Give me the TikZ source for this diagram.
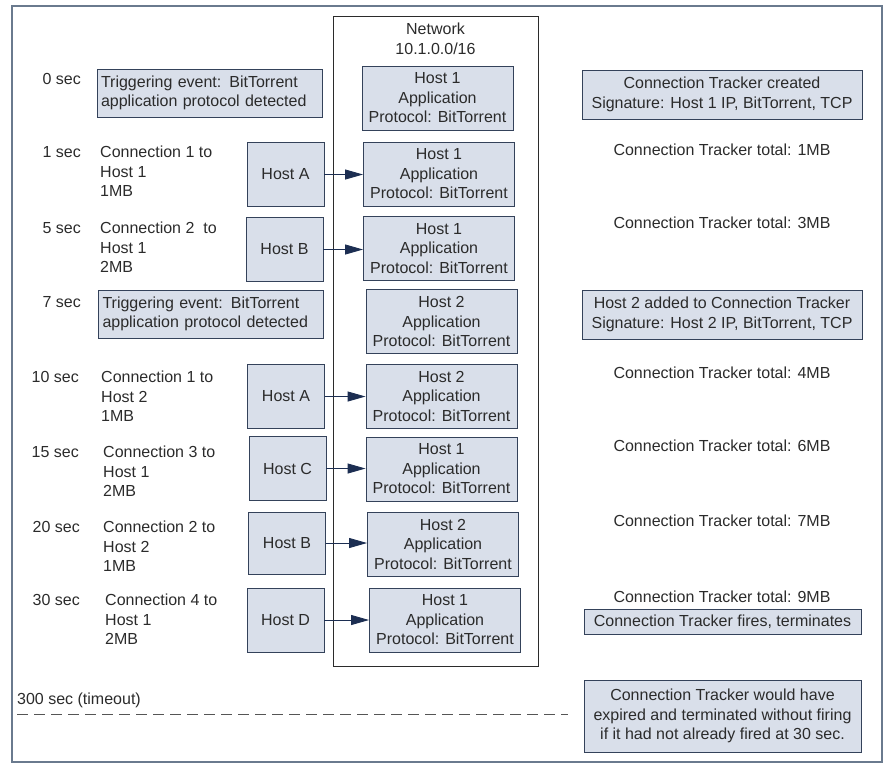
\documentclass[tikz,border=0pt]{standalone}
\usepackage{fontspec}
\setmainfont{Liberation Sans}
\usetikzlibrary{arrows.meta}

\definecolor{boxfill}{HTML}{D9DFEA}
\definecolor{boxline}{HTML}{34425A}
\definecolor{arrowcol}{HTML}{1C2E52}
\definecolor{txt}{HTML}{2B2B2B}
\definecolor{framecol}{HTML}{6A7A8E}

\tikzstyle{box} = [draw=boxline, fill=boxfill, line width=0.9pt, text=txt, inner sep=2pt, align=center]
\tikzstyle{netbox} = [box, minimum width=151pt, minimum height=64pt]
\tikzstyle{hostbox} = [box, minimum width=77pt, minimum height=64pt]
\tikzstyle{trigbox} = [box, minimum width=225pt, minimum height=48pt, text width=217pt, align=left]
\tikzstyle{trackbox} = [box, minimum width=280pt, minimum height=49pt]
\tikzstyle{plain} = [text=txt, inner sep=0pt, align=left]
\tikzstyle{tick} = [text=txt, inner sep=0pt, anchor=east]
\tikzstyle{link} = [draw=arrowcol, line width=0.9pt, -{Triangle[length=18pt,width=10pt]}]

\begin{document}
\begin{tikzpicture}[x=1pt, y=-1pt, font=\fontsize{16}{19.5}\selectfont]
      \useasboundingbox (0,0) rectangle (891,763);
      \draw[framecol, line width=1.6pt] (12,6) rectangle (882,762);
      \draw[txt, line width=0.8pt] (333,16) rectangle (538,666);
      \node[plain, align=center] (net) at (435.5,39) {Network\\10.1.0.0/16};

      % times
      \node[tick] (t0) at (81,79) {0 sec};
      \node[tick] (t1) at (81,152) {1 sec};
      \node[tick] (t5) at (81,228) {5 sec};
      \node[tick] (t7) at (81,302) {7 sec};
      \node[tick] (t10) at (79,377) {10 sec};
      \node[tick] (t15) at (79,452) {15 sec};
      \node[tick] (t20) at (80,527) {20 sec};
      \node[tick] (t30) at (80,600) {30 sec};

      % events
      \node[trigbox] (e0) at (209.5,93) {Triggering event: BitTorrent\\application protocol detected};
      \node[plain, anchor=north west] (c1) at (100,146) {Connection 1 to\\Host 1\\1MB};
      \node[plain, anchor=north west] (c5) at (100,222) {Connection 2\ \ to\\Host 1\\2MB};
      \node[trigbox] (e7) at (211,314) {Triggering event: BitTorrent\\application protocol detected};
      \node[plain, anchor=north west] (c10) at (101,371) {Connection 1 to\\Host 2\\1MB};
      \node[plain, anchor=north west] (c15) at (103,446) {Connection 3 to\\Host 1\\2MB};
      \node[plain, anchor=north west] (c20) at (103,521) {Connection 2 to\\Host 2\\1MB};
      \node[plain, anchor=north west] (c30) at (105,594) {Connection 4 to\\Host 1\\2MB};

      % sending hosts
      \node[hostbox] (ha1) at (285.5,174.5) {Host A};
      \node[hostbox] (hb1) at (284.5,249.5) {Host B};
      \node[hostbox] (ha2) at (286,396.5) {Host A};
      \node[hostbox] (hc) at (287.5,468.5) {Host C};
      \node[hostbox, minimum height=62pt] (hb2) at (287,543) {Host B};
      \node[hostbox] (hd) at (285.5,620) {Host D};

      % network hosts
      \node[netbox] (n1) at (437.5,98) {Host 1\\Application\\Protocol: BitTorrent};
      \node[netbox] (n2) at (439,174) {Host 1\\Application\\Protocol: BitTorrent};
      \node[netbox] (n3) at (439,248.5) {Host 1\\Application\\Protocol: BitTorrent};
      \node[netbox] (n4) at (441.5,321.5) {Host 2\\Application\\Protocol: BitTorrent};
      \node[netbox] (n5) at (441.5,396) {Host 2\\Application\\Protocol: BitTorrent};
      \node[netbox] (n6) at (441.5,469) {Host 1\\Application\\Protocol: BitTorrent};
      \node[netbox] (n7) at (443,544) {Host 2\\Application\\Protocol: BitTorrent};
      \node[netbox] (n8) at (445,620) {Host 1\\Application\\Protocol: BitTorrent};

      \draw[link] (ha1) -- (ha1 -| n2.west);
      \draw[link] (hb1) -- (hb1 -| n3.west);
      \draw[link] (ha2) -- (ha2 -| n5.west);
      \draw[link] (hc) -- (hc -| n6.west);
      \draw[link] (hb2) -- (hb2 -| n7.west);
      \draw[link] (hd) -- (hd -| n8.west);

      % tracker
      \node[trackbox] (k0) at (722,94.5) {Connection Tracker created\\Signature: Host 1 IP, BitTorrent, TCP};
      \node[plain] (k1) at (722,150) {Connection Tracker total: 1MB};
      \node[plain] (k5) at (722,223) {Connection Tracker total: 3MB};
      \node[trackbox] (k7) at (722,314.5) {Host 2 added to Connection Tracker\\Signature: Host 2 IP, BitTorrent, TCP};
      \node[plain] (k10) at (722,373) {Connection Tracker total: 4MB};
      \node[plain] (k15) at (722,446) {Connection Tracker total: 6MB};
      \node[plain] (k20) at (722,521) {Connection Tracker total: 7MB};
      \node[plain] (k30) at (722,597) {Connection Tracker total: 9MB};
      \node[box, minimum width=277pt, minimum height=25pt] (fire) at (722.5,621.5) {Connection Tracker fires, terminates};

      % timeout
      \node[plain, anchor=west] (tout) at (17,700) {300 sec (timeout)};
      \coordinate (dl) at (17,714);
      \coordinate (dr) at (568,714);
      \draw[txt!80, line width=1pt, dash pattern=on 11pt off 6pt] (dl) -- (dr);
      \node[box, minimum width=277pt, minimum height=72pt] (exp) at (722.5,716) {Connection Tracker would have\\expired and terminated without firing\\if it had not already fired at 30 sec.};
    \end{tikzpicture}
\end{document}
